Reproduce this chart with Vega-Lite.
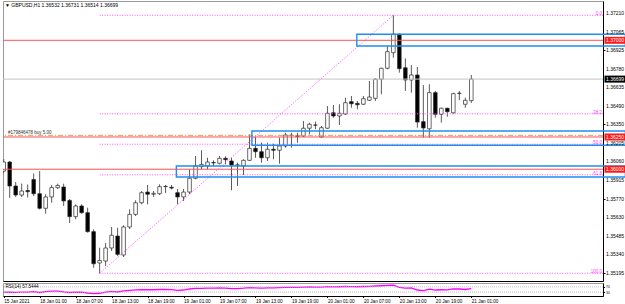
{
"$schema":"https://vega.github.io/schema/vega-lite/v6.json",
"padding":0,
"autosize":{"type":"pad"},
"background":"#ffffff",
"config":{"view":{"stroke":"#9a9a9a"},"concat":{"spacing":0},"font":"Liberation Sans","axis":{"grid":false,"labelOverlap":false,"labelFlush":false},"scale":{"continuousPadding":0}},
"datasets":{
"candles":[
{"i":0,"o":1.35986,"h":1.36079,"l":1.35971,"c":1.36056,"rsi":30},
{"i":1,"o":1.36056,"h":1.36064,"l":1.35777,"c":1.35870,"rsi":29},
{"i":2,"o":1.35870,"h":1.35901,"l":1.35785,"c":1.35800,"rsi":28},
{"i":3,"o":1.35800,"h":1.35889,"l":1.35785,"c":1.35831,"rsi":30},
{"i":4,"o":1.35835,"h":1.35882,"l":1.35781,"c":1.35826,"rsi":30},
{"i":5,"o":1.35920,"h":1.35967,"l":1.35792,"c":1.35810,"rsi":33},
{"i":6,"o":1.35810,"h":1.35986,"l":1.35688,"c":1.35697,"rsi":27},
{"i":7,"o":1.35697,"h":1.35806,"l":1.35655,"c":1.35785,"rsi":33},
{"i":8,"o":1.35785,"h":1.35878,"l":1.35740,"c":1.35858,"rsi":37},
{"i":9,"o":1.35857,"h":1.35888,"l":1.35847,"c":1.35874,"rsi":38},
{"i":10,"o":1.35862,"h":1.35888,"l":1.35715,"c":1.35754,"rsi":31},
{"i":11,"o":1.35758,"h":1.35769,"l":1.35583,"c":1.35632,"rsi":27},
{"i":12,"o":1.35632,"h":1.35728,"l":1.35612,"c":1.35715,"rsi":30},
{"i":13,"o":1.35715,"h":1.35728,"l":1.35655,"c":1.35663,"rsi":29},
{"i":14,"o":1.35663,"h":1.35702,"l":1.35508,"c":1.35516,"rsi":23},
{"i":15,"o":1.35516,"h":1.35534,"l":1.35236,"c":1.35267,"rsi":19},
{"i":16,"o":1.35273,"h":1.35391,"l":1.35193,"c":1.35292,"rsi":21},
{"i":17,"o":1.35288,"h":1.35428,"l":1.35249,"c":1.35389,"rsi":30},
{"i":18,"o":1.35389,"h":1.35552,"l":1.35366,"c":1.35488,"rsi":35},
{"i":19,"o":1.35482,"h":1.35546,"l":1.35327,"c":1.35340,"rsi":31},
{"i":20,"o":1.35335,"h":1.35565,"l":1.35319,"c":1.35552,"rsi":40},
{"i":21,"o":1.35552,"h":1.35689,"l":1.35536,"c":1.35650,"rsi":44},
{"i":22,"o":1.35650,"h":1.35759,"l":1.35637,"c":1.35740,"rsi":47},
{"i":23,"o":1.35740,"h":1.35831,"l":1.35728,"c":1.35818,"rsi":49},
{"i":24,"o":1.35823,"h":1.35878,"l":1.35728,"c":1.35806,"rsi":48},
{"i":25,"o":1.35806,"h":1.35831,"l":1.35785,"c":1.35813,"rsi":48},
{"i":26,"o":1.35810,"h":1.35883,"l":1.35800,"c":1.35865,"rsi":50},
{"i":27,"o":1.35865,"h":1.35878,"l":1.35816,"c":1.35867,"rsi":50},
{"i":28,"o":1.35860,"h":1.35878,"l":1.35843,"c":1.35854,"rsi":49},
{"i":29,"o":1.35818,"h":1.35847,"l":1.35728,"c":1.35785,"rsi":43},
{"i":30,"o":1.35785,"h":1.35847,"l":1.35754,"c":1.35823,"rsi":46},
{"i":31,"o":1.35823,"h":1.36000,"l":1.35808,"c":1.35930,"rsi":54},
{"i":32,"o":1.35930,"h":1.36103,"l":1.35922,"c":1.36025,"rsi":58},
{"i":33,"o":1.36020,"h":1.36147,"l":1.36000,"c":1.36038,"rsi":59},
{"i":34,"o":1.36025,"h":1.36089,"l":1.36000,"c":1.36056,"rsi":60},
{"i":35,"o":1.36052,"h":1.36069,"l":1.36025,"c":1.36049,"rsi":60},
{"i":36,"o":1.36046,"h":1.36103,"l":1.36038,"c":1.36085,"rsi":62},
{"i":37,"o":1.36085,"h":1.36100,"l":1.36038,"c":1.36074,"rsi":61},
{"i":38,"o":1.36064,"h":1.36089,"l":1.35837,"c":1.36033,"rsi":57},
{"i":39,"o":1.36031,"h":1.36051,"l":1.35870,"c":1.36034,"rsi":57},
{"i":40,"o":1.36025,"h":1.36077,"l":1.35955,"c":1.36069,"rsi":60},
{"i":41,"o":1.36069,"h":1.36271,"l":1.36064,"c":1.36162,"rsi":65},
{"i":42,"o":1.36162,"h":1.36250,"l":1.36089,"c":1.36136,"rsi":63},
{"i":43,"o":1.36136,"h":1.36206,"l":1.36051,"c":1.36089,"rsi":60},
{"i":44,"o":1.36089,"h":1.36206,"l":1.36064,"c":1.36155,"rsi":63},
{"i":45,"o":1.36155,"h":1.36198,"l":1.36077,"c":1.36147,"rsi":62},
{"i":46,"o":1.36147,"h":1.36245,"l":1.36043,"c":1.36180,"rsi":64},
{"i":47,"o":1.36180,"h":1.36283,"l":1.36167,"c":1.36266,"rsi":67},
{"i":48,"o":1.36264,"h":1.36283,"l":1.36167,"c":1.36262,"rsi":67},
{"i":49,"o":1.36254,"h":1.36283,"l":1.36206,"c":1.36259,"rsi":66},
{"i":50,"o":1.36258,"h":1.36374,"l":1.36250,"c":1.36318,"rsi":69},
{"i":51,"o":1.36318,"h":1.36361,"l":1.36271,"c":1.36349,"rsi":70},
{"i":52,"o":1.36343,"h":1.36369,"l":1.36310,"c":1.36342,"rsi":69},
{"i":53,"o":1.36250,"h":1.36335,"l":1.36245,"c":1.36322,"rsi":68},
{"i":54,"o":1.36318,"h":1.36490,"l":1.36312,"c":1.36434,"rsi":72},
{"i":55,"o":1.36438,"h":1.36498,"l":1.36400,"c":1.36413,"rsi":70},
{"i":56,"o":1.36413,"h":1.36504,"l":1.36343,"c":1.36434,"rsi":71},
{"i":57,"o":1.36428,"h":1.36555,"l":1.36421,"c":1.36516,"rsi":73},
{"i":58,"o":1.36524,"h":1.36568,"l":1.36477,"c":1.36508,"rsi":72},
{"i":59,"o":1.36511,"h":1.36529,"l":1.36465,"c":1.36500,"rsi":71},
{"i":60,"o":1.36504,"h":1.36568,"l":1.36498,"c":1.36547,"rsi":73},
{"i":61,"o":1.36535,"h":1.36684,"l":1.36529,"c":1.36560,"rsi":74},
{"i":62,"o":1.36550,"h":1.36705,"l":1.36529,"c":1.36698,"rsi":77},
{"i":63,"o":1.36698,"h":1.36787,"l":1.36581,"c":1.36783,"rsi":79},
{"i":64,"o":1.36783,"h":1.36956,"l":1.36775,"c":1.36912,"rsi":81},
{"i":65,"o":1.36904,"h":1.37194,"l":1.36865,"c":1.37047,"rsi":83},
{"i":66,"o":1.37047,"h":1.37054,"l":1.36749,"c":1.36780,"rsi":66},
{"i":67,"o":1.36787,"h":1.36860,"l":1.36607,"c":1.36692,"rsi":60},
{"i":68,"o":1.36692,"h":1.36808,"l":1.36594,"c":1.36731,"rsi":62},
{"i":69,"o":1.36731,"h":1.36793,"l":1.36322,"c":1.36366,"rsi":46},
{"i":70,"o":1.36369,"h":1.36653,"l":1.36245,"c":1.36320,"rsi":42},
{"i":71,"o":1.36314,"h":1.36659,"l":1.36245,"c":1.36594,"rsi":53},
{"i":72,"o":1.36594,"h":1.36607,"l":1.36400,"c":1.36426,"rsi":46},
{"i":73,"o":1.36426,"h":1.36477,"l":1.36361,"c":1.36473,"rsi":48},
{"i":74,"o":1.36473,"h":1.36477,"l":1.36407,"c":1.36446,"rsi":47},
{"i":75,"o":1.36438,"h":1.36594,"l":1.36431,"c":1.36586,"rsi":54},
{"i":76,"o":1.36587,"h":1.36607,"l":1.36535,"c":1.36590,"rsi":54},
{"i":77,"o":1.36504,"h":1.36555,"l":1.36477,"c":1.36535,"rsi":50},
{"i":78,"o":1.36532,"h":1.36731,"l":1.36514,"c":1.36699,"rsi":57.5444}
],
"levels":[{"p":1.37},{"p":1.3625},{"p":1.36}],
"bid":[{"p":1.36699}],
"order":[{"p":1.36263,"lab":"#179846478 buy 5.00"}],
"fib":[{"lv":"0.0","p":1.37194},{"lv":"38.2","p":1.3643},{"lv":"50.0","p":1.36194},{"lv":"61.8","p":1.35957},{"lv":"100.0","p":1.35193}],
"trend":[{"i":16,"p":1.35193},{"i":65,"p":1.37194}],
"rects":[{"x1":58.9,"p1":1.37047,"p2":1.36956},{"x1":41.4,"p1":1.36297,"p2":1.36186},{"x1":28.8,"p1":1.36025,"p2":1.3594}],
"boxes":[{"p":1.37,"lab":"1.37000","kind":"line"},{"p":1.36699,"lab":"1.36699","kind":"bid"},{"p":1.3625,"lab":"1.36250","kind":"line"},{"p":1.36,"lab":"1.36000","kind":"line"}],
"pticks":[{"p":1.3721,"lab":"1.37210"},{"p":1.37065,"lab":"1.37065"},{"p":1.36925,"lab":"1.36925"},{"p":1.3678,"lab":"1.36780"},{"p":1.36635,"lab":"1.36635"},{"p":1.3649,"lab":"1.36490"},{"p":1.3635,"lab":"1.36350"},{"p":1.36205,"lab":"1.36205"},{"p":1.3606,"lab":"1.36060"},{"p":1.35915,"lab":"1.35915"},{"p":1.3577,"lab":"1.35770"},{"p":1.3563,"lab":"1.35630"},{"p":1.35485,"lab":"1.35485"},{"p":1.3534,"lab":"1.35340"},{"p":1.35195,"lab":"1.35195"}],
"rsilv":[{"v":70},{"v":30}],
"rsilab":[{"lab":"RSI(14) 57.5444"}]
},
"vconcat":[
{
"width":600,"height":280,
"title":{"text":"▼ GBPUSD,H1  1.36532 1.36731 1.36514 1.36699","anchor":"start","frame":"group","offset":-7,"fontSize":5,"fontWeight":"normal","color":"#000000","dx":2},
"layer":[
{"data":{"name":"candles"},"mark":{"type":"rule","color":"#5a5a5a","strokeWidth":1,"clip":true},
"encoding":{
"x":{"field":"i","type":"quantitative","title":null,"scale":{"domain":[-0.117,99.967],"nice":false,"zero":false,"padding":0},"axis":{"labels":false,"ticks":false,"domain":true,"domainColor":"#000000","title":null}},
"y":{"field":"l","type":"quantitative","title":null,"scale":{"domain":[1.351331,1.373048],"nice":false,"zero":false,"padding":0},"axis":{"orient":"right","values":[1.3721,1.37065,1.36925,1.3678,1.36635,1.3649,1.3635,1.36205,1.3606,1.35915,1.3577,1.3563,1.35485,1.3534,1.35195],"labels":false,"tickColor":"#000000","tickSize":2,"domainColor":"#000000","title":null}},
"y2":{"field":"h"}}},
{"data":{"name":"candles"},"mark":{"type":"bar","size":3.6,"stroke":"#2a2a2a","strokeWidth":0.7,"clip":true},
"encoding":{"x":{"field":"i","type":"quantitative","title":null},"y":{"field":"o","type":"quantitative","title":null},"y2":{"field":"c"},
"fill":{"condition":{"test":"datum.c >= datum.o","value":"#ffffff"},"value":"#000000"}}},
{"data":{"name":"bid"},"mark":{"type":"rule","color":"#c4c4c4","strokeWidth":1},"encoding":{"y":{"field":"p","type":"quantitative","title":null}}},
{"data":{"name":"fib"},"mark":{"type":"rule","color":"#ff50ff","strokeDash":[1,1.5],"strokeWidth":1},"encoding":{"x":{"datum":16,"type":"quantitative"},"x2":{"datum":99.967},"y":{"field":"p","type":"quantitative","title":null}}},
{"data":{"name":"fib"},"mark":{"type":"text","color":"#ff40ff","fontSize":4.5,"align":"right","baseline":"bottom","dy":1},"encoding":{"x":{"datum":99.8,"type":"quantitative"},"y":{"field":"p","type":"quantitative","title":null},"text":{"field":"lv"}}},
{"data":{"name":"trend"},"mark":{"type":"line","color":"#ff50ff","strokeDash":[1,1.5],"strokeWidth":1},"encoding":{"x":{"field":"i","type":"quantitative","title":null},"y":{"field":"p","type":"quantitative","title":null}}},
{"data":{"name":"order"},"mark":{"type":"rule","color":"#e29a5a","strokeDash":[5,2,1,2],"strokeWidth":1},"encoding":{"y":{"field":"p","type":"quantitative","title":null}}},
{"data":{"name":"order"},"mark":{"type":"text","color":"#303030","fontSize":4.5,"align":"left","baseline":"bottom","dy":-0.5},"encoding":{"x":{"datum":0.7,"type":"quantitative"},"y":{"field":"p","type":"quantitative","title":null},"text":{"field":"lab"}}},
{"data":{"name":"levels"},"mark":{"type":"rule","color":"#ff5050","strokeWidth":1},"encoding":{"y":{"field":"p","type":"quantitative","title":null}}},
{"data":{"name":"rects"},"mark":{"type":"rect","fillOpacity":0,"stroke":"#1e8ff0","strokeWidth":1.4},"encoding":{"x":{"field":"x1","type":"quantitative","title":null},"x2":{"datum":103.7},"y":{"field":"p1","type":"quantitative","title":null},"y2":{"field":"p2"}}},
{"data":{"name":"pticks"},"mark":{"type":"text","color":"#000000","fontSize":5,"align":"left","baseline":"middle"},"encoding":{"x":{"datum":100.47,"type":"quantitative"},"y":{"field":"p","type":"quantitative","title":null},"text":{"field":"lab"}}},
{"data":{"name":"boxes"},"mark":{"type":"bar","size":7},"encoding":{"x":{"datum":100.22,"type":"quantitative"},"x2":{"datum":103.75},"y":{"field":"p","type":"quantitative","title":null},"color":{"field":"kind","type":"nominal","scale":{"domain":["line","bid"],"range":["#ff1a1a","#000000"]},"legend":null}}},
{"data":{"name":"boxes"},"mark":{"type":"text","color":"#ffffff","fontSize":5,"align":"left","baseline":"middle"},"encoding":{"x":{"datum":100.47,"type":"quantitative"},"y":{"field":"p","type":"quantitative","title":null},"text":{"field":"lab"}}}
]
},
{
"width":600,"height":13,
"layer":[
{"data":{"name":"candles"},"mark":{"type":"line","color":"#ff00ff","strokeWidth":1.3},
"encoding":{
"x":{"field":"i","type":"quantitative","title":null,"scale":{"domain":[-0.117,99.967],"nice":false,"zero":false,"padding":0},"axis":{"values":[0,6,12,18,24,30,36,42,48,54,60,66,72,78],"labelExpr":"['15 Jan 2021','18 Jan 01:00','18 Jan 07:00','18 Jan 13:00','18 Jan 19:00','19 Jan 01:00','19 Jan 07:00','19 Jan 13:00','19 Jan 19:00','20 Jan 01:00','20 Jan 07:00','20 Jan 13:00','20 Jan 19:00','21 Jan 01:00'][round(datum.value/6)]","labelAlign":"left","labelBaseline":"top","labelFontSize":4.6,"labelPadding":0.5,"tickSize":1.5,"labelOverlap":false,"labelFlush":false,"domainColor":"#000000","tickColor":"#000000","labelColor":"#000000","title":null}},
"y":{"field":"rsi","type":"quantitative","title":null,"scale":{"domain":[0,100],"nice":false,"zero":false,"padding":0},"axis":{"orient":"right","values":[30,70],"labelFontSize":3.5,"tickSize":1.5,"labelPadding":1,"domainColor":"#000000","tickColor":"#000000","labelColor":"#000000","labelOverlap":false,"labelFlush":false,"title":null}}}},
{"data":{"name":"rsilv"},"mark":{"type":"rule","color":"#bdbdbd","strokeDash":[1,1],"strokeWidth":1},"encoding":{"y":{"field":"v","type":"quantitative","title":null}}},
{"data":{"name":"rsilab"},"mark":{"type":"text","color":"#000000","fontSize":4.5,"align":"left","baseline":"top","dy":1},"encoding":{"x":{"datum":0.3,"type":"quantitative"},"y":{"datum":100,"type":"quantitative"},"text":{"field":"lab"}}}
]
}
]
}
